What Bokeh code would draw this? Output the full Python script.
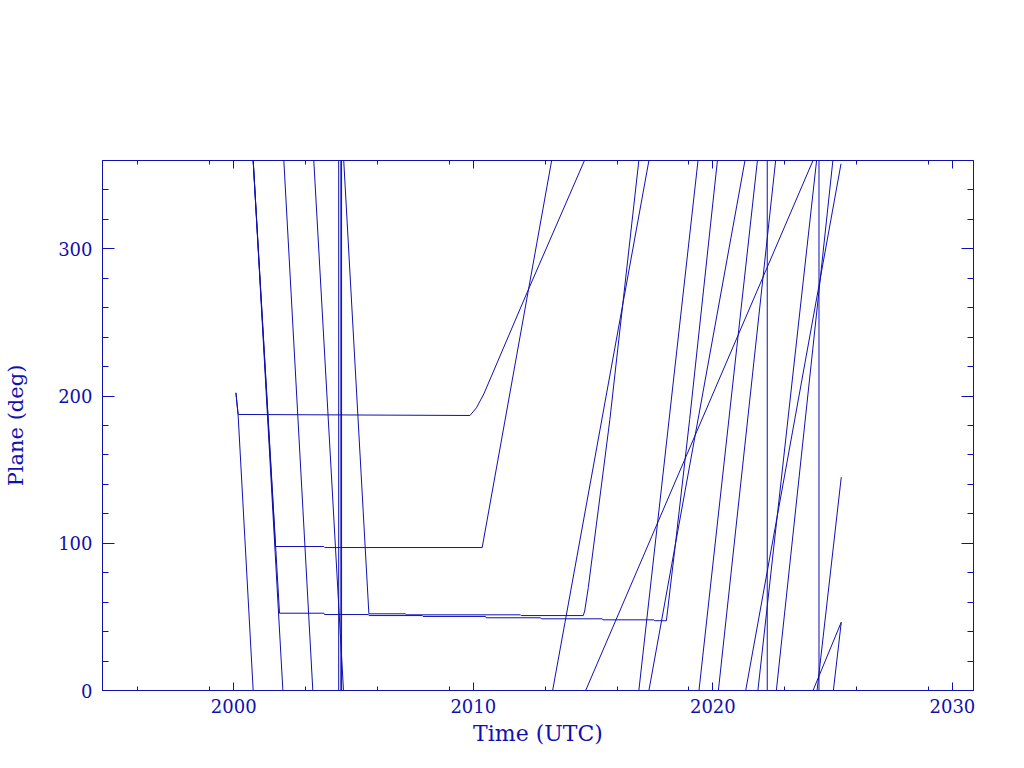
import math
from bokeh.plotting import figure
from bokeh.models import FixedTicker, LinearAxis, CustomJSTickFormatter, Range1d
from bokeh.embed import file_html
from bokeh.resources import INLINE

nan = float("nan")

# ---------------- data (year, plane in degrees); NaN marks a wrap 360 -> 0 ----------------
sat1_year = [2000.81, 2002.05, nan, 2002.09, 2003.30, nan, 2003.34, 2004.58, nan,
             2004.59, 2005.64, 2007.17, 2007.20, 2011.97, 2012.00, 2014.59, 2014.65,
             2014.80, 2015.70, 2016.91, nan, 2016.91, 2019.38, nan, 2019.42, 2021.86,
             nan, 2021.88, 2024.33, nan, 2024.35, 2025.36]
sat1_deg = [360, 0, nan, 360, 0, nan, 360, 0, nan,
            360, 52.1, 52.1, 51.4, 51.4, 50.9, 50.9, 54.0,
            70.0, 184.0, 360, nan, 0, 360, nan, 0, 360,
            nan, 0, 360, nan, 0, 144.9]

sat2_year = [2000.81, 2001.74, 2003.76, 2003.80, 2010.37, 2013.27, nan, 2013.31, 2017.33,
             nan, 2017.33, 2021.34, nan, 2021.37, 2025.35]
sat2_deg = [360, 97.8, 97.8, 97.1, 97.1, 360, nan, 0, 360,
            nan, 0, 360, nan, 0, 357.8]

sat3_year = [2000.81, 2001.91, 2003.76, 2003.79, 2005.62, 2005.65, 2007.87, 2007.90,
             2010.51, 2010.54, 2012.81, 2012.84, 2015.38, 2015.41, 2017.54, 2017.57,
             2018.06, 2018.44, 2019.03, 2020.19, nan, 2020.23, 2022.62, nan,
             2022.65, 2025.01, nan, 2025.03, 2025.36]
sat3_deg = [360, 52.5, 52.5, 51.6, 51.6, 50.9, 50.9, 50.3,
            50.3, 49.4, 49.4, 48.7, 48.7, 48.0, 48.0, 47.4,
            47.4, 100.0, 184.0, 360, nan, 0, 360, nan,
            0, 360, nan, 0, 46.4]

sat4_year = [2000.09, 2000.18, 2009.86, 2010.13, 2010.44, 2012.25, 2014.64, nan,
             2014.69, 2024.18, nan, 2024.18, 2025.36]
sat4_deg = [202.2, 187.5, 186.8, 192.0, 201.5, 270.5, 360, nan,
            0, 360, nan, 0, 46.4]

sat5_year = [2000.09, 2000.18, 2000.81]
sat5_deg = [202.2, 187.5, 0]

jump_year = [2004.38, 2004.47, 2004.50, 2022.27, 2024.43]
jump_from_deg = [0, 0, 0, 0, 0]
jump_to_deg = [360, 360, 360, 360, 360]

x_major = [2000, 2010, 2020, 2030]
x_minor = [1996, 1999, 2003, 2006, 2009, 2013, 2016, 2019, 2023, 2026, 2029]
y_major = [0, 100, 200, 300]
y_minor = [20, 40, 60, 80, 120, 140, 160, 180, 220, 240, 260, 280, 320, 340]

# ---------------- figure ----------------
C = "#1010b0"
FONT = "DejaVu Serif"

p = figure(width=1008, height=758,
           x_range=Range1d(1994.52, 2030.88), y_range=Range1d(0, 360),
           output_backend="svg", toolbar_location=None,
           x_axis_label="Time (UTC)", y_axis_label="Plane (deg)",
           min_border_left=102, min_border_right=35,
           min_border_top=160, min_border_bottom=68)
p.xgrid.visible = False
p.ygrid.visible = False
p.outline_line_color = C
p.outline_line_width = 1
p.background_fill_color = "white"
p.border_fill_color = "white"

for xs, ys in [(sat1_year, sat1_deg), (sat2_year, sat2_deg), (sat3_year, sat3_deg),
               (sat4_year, sat4_deg), (sat5_year, sat5_deg)]:
    p.line(xs, ys, line_color=C, line_width=1)

p.segment(x0=jump_year, y0=jump_from_deg, x1=jump_year, y1=jump_to_deg,
          line_color=C, line_width=1)


def style(ax, major_len, minor_len):
    ax.axis_line_color = C
    ax.major_tick_line_color = C
    ax.minor_tick_line_color = C
    ax.major_tick_in = major_len
    ax.major_tick_out = 0
    ax.minor_tick_in = minor_len
    ax.minor_tick_out = 0
    ax.major_label_text_color = C
    ax.major_label_text_font = FONT
    ax.major_label_text_font_size = "18px"
    ax.axis_label_text_color = C
    ax.axis_label_text_font = FONT
    ax.axis_label_text_font_size = "21px"
    ax.axis_label_text_font_style = "normal"


xa = p.xaxis[0]
xa.ticker = FixedTicker(ticks=x_major, minor_ticks=x_minor)
style(xa, 8, 4)
xa.axis_label_text_font_size = "22px"
xa.major_label_standoff = 8
xa.axis_label_standoff = 5

ya = p.yaxis[0]
ya.ticker = FixedTicker(ticks=y_major, minor_ticks=y_minor)
style(ya, 12, 6)
ya.major_label_standoff = 10
ya.axis_label_standoff = 27

top = LinearAxis(ticker=FixedTicker(ticks=x_major, minor_ticks=x_minor),
                 formatter=CustomJSTickFormatter(code="return ''"))
style(top, 8, 4)
p.add_layout(top, "above")

right = LinearAxis(ticker=FixedTicker(ticks=y_major, minor_ticks=y_minor),
                   formatter=CustomJSTickFormatter(code="return ''"))
style(right, 12, 6)
p.add_layout(right, "right")

open("out.html", "w").write(file_html(p, INLINE))
